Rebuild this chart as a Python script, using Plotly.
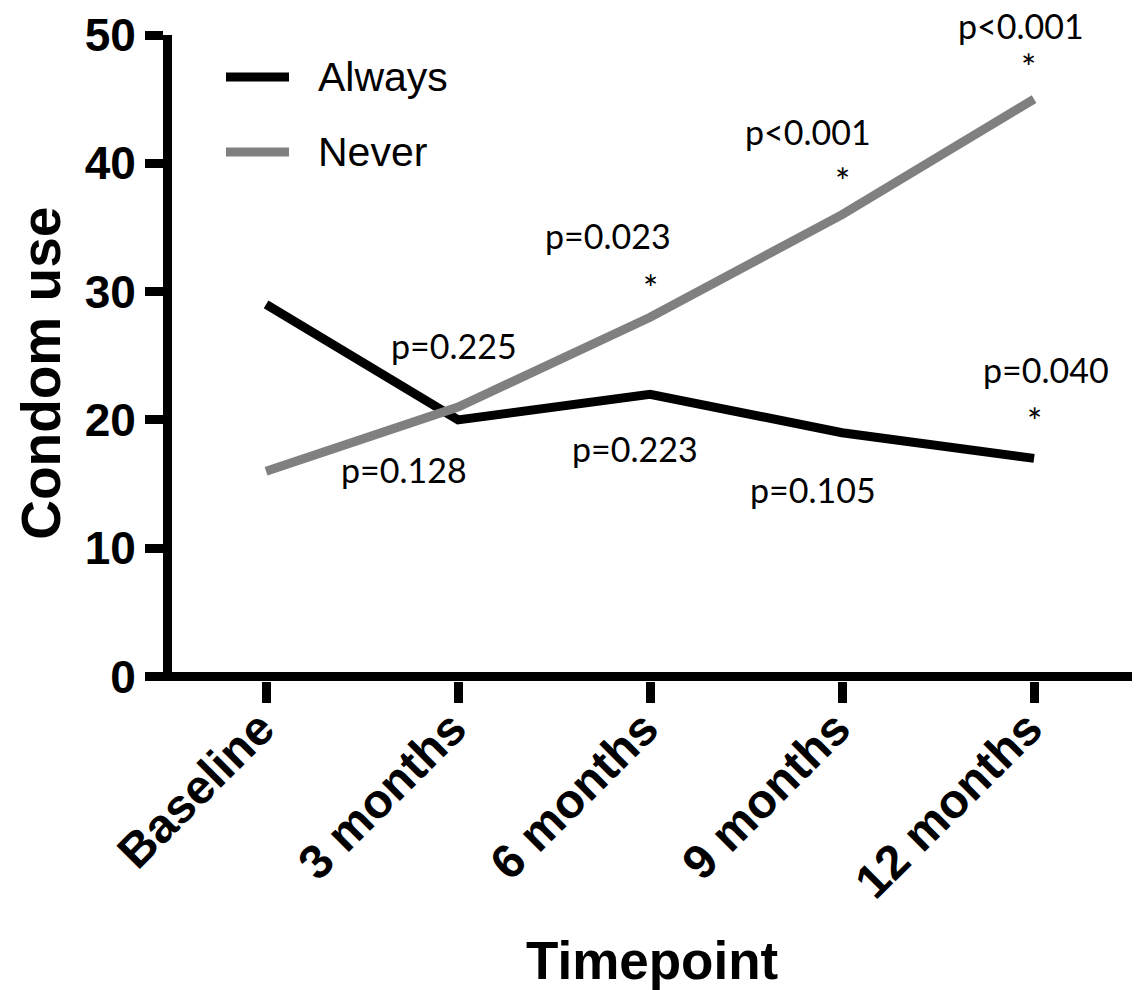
import plotly.graph_objects as go

# ---- data ----
timepoints = ["Baseline", "3 months", "6 months", "9 months", "12 months"]
always = [29, 20, 22, 19, 17]
never = [16, 21, 28, 36, 45]
y_ticks = [0, 10, 20, 30, 40, 50]

p_texts = ["p=0.225", "p=0.128", "p=0.223", "p=0.105", "p=0.023", "p<0.001", "p<0.001", "p=0.040"]
p_x = [0.98, 0.72, 1.92, 2.85, 1.78, 2.82, 3.93, 4.06]
p_y = [25.8, 16.1, 17.8, 14.6, 34.4, 42.5, 50.0, 23.9]
p_shift = [0, 0, 0, 0, 0, 0, 10, 0]
star_x = [2.0, 3.0, 3.97, 4.0]
star_y = [30.3, 38.6, 47.5, 19.9]

ARIAL = "Liberation Sans, Arial, sans-serif"
CALIBRI = "Lato, Carlito, sans-serif"

W, H = 1145, 990
L, R, T, B = 172, 1132, 35, 681.5
pw, ph = R - L, B - T


def px(xp):
    return (xp - L) / pw


def py(yp):
    return (B - yp) / ph


fig = go.Figure()
fig.add_trace(go.Scatter(x=timepoints, y=always, mode="lines", name="Always",
                         line=dict(color="#000000", width=9)))
fig.add_trace(go.Scatter(x=timepoints, y=never, mode="lines", name="Never",
                         line=dict(color="#808080", width=9)))

annotations = []
for t, x, y, s in zip(p_texts, p_x, p_y, p_shift):
    annotations.append(dict(x=x, y=y, xref="x", yref="y", text=t, showarrow=False, yshift=s,
                            font=dict(family=CALIBRI, size=34, color="#000000"),
                            xanchor="center", yanchor="middle"))
for x, y in zip(star_x, star_y):
    annotations.append(dict(x=x, y=y, xref="x", yref="y", text="*", showarrow=False,
                            font=dict(family=CALIBRI, size=36, color="#000000"),
                            xanchor="center", yanchor="middle"))

# axis titles
annotations.append(dict(x=px(41), y=py(374), xref="paper", yref="paper",
                        text="<b>Condom use</b>", showarrow=False, textangle=-90,
                        xanchor="center", yanchor="middle",
                        font=dict(family=ARIAL, size=55, color="#000000")))
annotations.append(dict(x=px(652), y=py(961), xref="paper", yref="paper",
                        text="<b>Timepoint</b>", showarrow=False,
                        xanchor="center", yanchor="middle",
                        font=dict(family=ARIAL, size=53, color="#000000")))

# manual legend
legend_items = [("Always", "#000000", 77), ("Never", "#808080", 152)]
shapes = []
for name, col, yy in legend_items:
    shapes.append(dict(type="line", xref="paper", yref="paper",
                       x0=px(226), x1=px(289), y0=py(yy), y1=py(yy),
                       line=dict(color=col, width=9)))
    annotations.append(dict(x=px(316), y=py(yy), xref="paper", yref="paper", text=name,
                            showarrow=False, xanchor="left", yanchor="middle",
                            font=dict(family=ARIAL, size=41, color="#000000")))

fig.update_layout(
    width=W, height=H,
    margin=dict(l=L, r=W - R, t=T, b=H - B, pad=0, autoexpand=False),
    plot_bgcolor="white", paper_bgcolor="white",
    showlegend=False,
    annotations=annotations,
    shapes=shapes,
    xaxis=dict(type="category", range=[-0.49, 4.51], showgrid=False, zeroline=False,
               automargin=False,
               showline=False, ticks="outside", ticklen=21, tickwidth=9, tickcolor="#000000",
               tickangle=-45, ticklabelstandoff=-22, ticklabelshift=-6,
               tickfont=dict(family=ARIAL, size=48, color="#000000"),
               tickvals=timepoints, ticktext=["<b>%s</b>" % t for t in timepoints]),
    yaxis=dict(range=[-0.35, 50], showgrid=False, zeroline=True, zerolinecolor="#000000",
               zerolinewidth=9, showline=True, linecolor="#000000", linewidth=9,
               automargin=False,
               ticks="outside", ticklen=18, tickwidth=9, tickcolor="#000000",
               tickvals=y_ticks, ticktext=["<b>%d</b>" % v for v in y_ticks],
               tickfont=dict(family=ARIAL, size=46, color="#000000")),
)

fig.write_html("out.html", config={"displayModeBar": False},
               post_script="document.body.style.margin='0px';")
